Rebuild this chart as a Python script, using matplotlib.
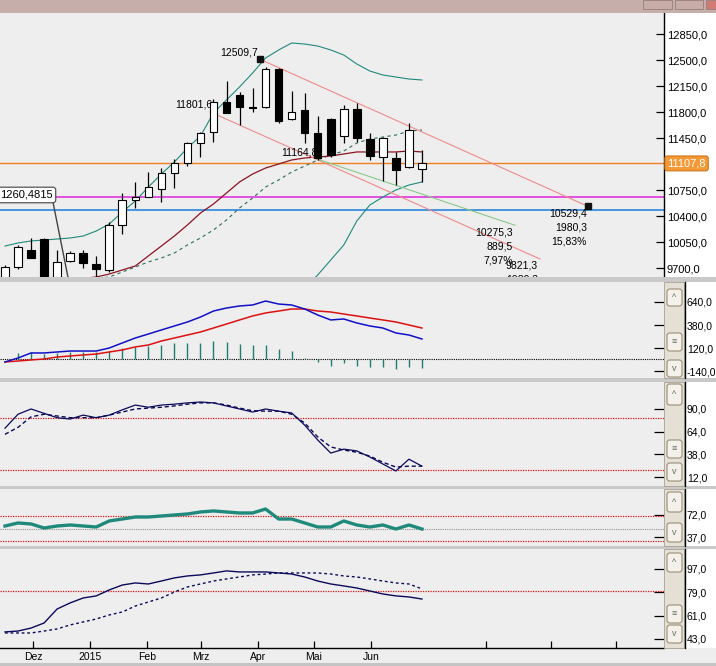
import numpy as np
import matplotlib
matplotlib.use("Agg")
import matplotlib.pyplot as plt
from matplotlib.patches import Rectangle, FancyBboxPatch
from matplotlib.lines import Line2D

plt.rcParams['font.family'] = ['Liberation Sans', 'DejaVu Sans']

# Wochenkerzen (33 Wochen)
opens = [9500, 9714, 9943, 10091, 9500, 9794, 9902, 9754, 9673, 10279, 10616, 10656, 10764,
         10979, 11114, 11383, 11531, 11935, 12029, 11867, 11867, 12379, 11706, 11827, 11517,
         11706, 11477, 11840, 11437, 11194, 11181, 11060, 11033]
highs = [9740, 10010, 10104, 10110, 9943, 9930, 9943, 9862, 10319, 10710, 10858, 10992, 11046,
         11167, 11400, 11530, 11975, 12217, 12069, 12123, 12406, 12390, 12083, 12056, 11746,
         11720, 11894, 11921, 11517, 11460, 11262, 11652, 11289]
lows = [9450, 9690, 9835, 9400, 9450, 9780, 9700, 9579, 9646, 10158, 10508, 10650, 10589,
        10777, 11073, 11194, 11396, 11780, 11625, 11800, 11860, 11652, 11692, 11383, 11154,
        11194, 11383, 11396, 11154, 10871, 10817, 11050, 10858]
closes = [9714, 9983, 9835, 9450, 9781, 9902, 9767, 9687, 10279, 10616, 10656, 10791, 10979,
          11114, 11383, 11517, 11935, 11787, 11867, 11860, 12379, 11679, 11800, 11517, 11181,
          11221, 11840, 11450, 11208, 11450, 11019, 11558, 11108]

# Bollinger + gleitender Durchschnitt
bb_upper = [9996, 10037, 10064, 10077, 10090, 10104, 10131, 10198, 10292, 10454, 10602, 10790,
            10965, 11127, 11315, 11477, 11787, 11962, 12137, 12325, 12527, 12635, 12729, 12715,
            12688, 12635, 12567, 12446, 12352, 12298, 12271, 12244, 12231]
bb_mid = [9480, 9490, 9500, 9510, 9520, 9530, 9545, 9560, 9579, 9646, 9714, 9781, 9835, 9902,
          10010, 10104, 10212, 10346, 10508, 10642, 10790, 10885, 10992, 11073, 11154, 11221,
          11275, 11383, 11437, 11463, 11490, 11544, 11558]
bb_lower = [8960, 8945, 8940, 8990, 8970, 8956, 8959, 8922, 8866, 8838, 8826, 8772, 8705, 8677,
            8705, 8731, 8637, 8730, 8879, 8959, 9053, 9135, 9255, 9431, 9606, 9808, 10010,
            10333, 10548, 10656, 10750, 10817, 10858]
sma = [9450, 9465, 9480, 9500, 9520, 9540, 9560, 9579, 9619, 9673, 9727, 9862, 9996, 10131,
       10279, 10440, 10562, 10710, 10858, 10965, 11046, 11100, 11154, 11181, 11194, 11208,
       11235, 11262, 11262, 11262, 11262, 11275, 11262]

last_price = 11107.8
magenta_level = 10660
blue_level = 10480

# Trendlinien (Startindex, Startwert, Endindex, Endwert)
line_a = (19.57, 12509.7, 44.74, 10529.4)
line_b = (15.73, 11801.6, 41.06, 9821.3)
line_g = (24.0, 11164.8, 39.14, 10275.3)

# MACD
macd = [-38, 7, 64, 64, 75, 86, 86, 86, 120, 177, 233, 278, 324, 369, 414, 470, 538, 572,
        595, 606, 651, 617, 606, 561, 493, 437, 448, 403, 369, 346, 290, 267, 222]
signal = [-38, -27, -15, -4, 18, 30, 41, 52, 75, 98, 132, 154, 199, 233, 267, 301, 346, 391,
          437, 482, 516, 538, 561, 561, 538, 527, 504, 482, 459, 437, 414, 380, 346]
hist = [0, 64, 75, 52, 64, 75, 75, 75, 86, 120, 131, 143, 154, 177, 177, 177, 199, 188, 165,
        154, 154, 109, 86, 3, -38, -83, -49, -83, -94, -94, -117, -94, -106]

# Stochastik
stoch_k = [68, 84, 90, 85, 80, 78.5, 83, 80, 83, 89, 94.5, 92, 94.5, 95.5, 97, 98, 97, 93.5,
           90, 86.5, 90, 87.5, 85.5, 71.5, 54.5, 39.5, 44, 42, 35, 27, 19, 32.5, 24.5]
stoch_d = [61, 69, 81, 84, 82, 80, 80, 80, 83, 86.5, 90, 91, 92, 93.5, 95.5, 97, 97, 94.5, 91,
           88, 87.5, 87.5, 84, 74, 58, 46.5, 43, 40.5, 36, 29, 23.5, 24.5, 24.5]

# RSI
rsi = [54.5, 59.3, 57.7, 51.3, 54.5, 56.1, 54.5, 52.9, 62.5, 65.6, 68.8, 68.8, 70.4, 72, 73.6,
       76.8, 78.4, 76.8, 75.2, 75.2, 81.5, 65.6, 65.6, 59.3, 52.9, 52.9, 62.5, 56.1, 52.9,
       56.1, 49.7, 56.1, 49.7]

# unterstes Fenster
osc_a = [48.4, 49.1, 51.4, 55.3, 66.1, 70.8, 74.6, 76.2, 80.8, 84.6, 86.2, 85.4, 87.7, 90.1,
         91.6, 92.4, 93.9, 95.5, 94.7, 94.7, 94.7, 93.9, 93.1, 90.8, 87.7, 85.4, 83.9, 82.3,
         80.0, 77.7, 76.2, 75.4, 73.8]
osc_b = [47.6, 47.6, 47.6, 49.1, 50.7, 53.8, 56.1, 58.4, 61.5, 63.8, 68.4, 71.5, 74.6, 79.2,
         83.1, 85.4, 87.7, 89.3, 90.8, 92.4, 93.1, 93.9, 93.9, 93.9, 93.9, 93.1, 91.6, 90.8,
         89.3, 87.7, 86.2, 85.4, 81.6]

month_pos = [2.15, 6.52, 10.9, 15.04, 19.4, 23.7, 28.1, 36.9, 41.9, 46.9]
month_lbl = ['Dez', '2015', 'Feb', 'Mrz', 'Apr', 'Mai', 'Jun', '', '', '']

main_ticks = [12850, 12500, 12150, 11800, 11450, 10750, 10400, 10050, 9700]
macd_ticks = [640, 380, 120, -140]
stoch_ticks = [90, 64, 38, 12]
rsi_ticks = [72, 37]
osc_ticks = [97, 79, 61, 43]

W, H = 716, 666
BG = '#eeeeee'
NAVY = '#0a0a5a'
TEAL = '#1f8a7c'


def frect(x0, y0, x1, y1):
    return [x0 / W, 1 - y1 / H, (x1 - x0) / W, (y1 - y0) / H]


def fmt(v):
    return ('%.1f' % v).replace('.', ',')


def prect(fig, x0, y0, x1, y1, **kw):
    r = Rectangle((x0 / W, 1 - y1 / H), (x1 - x0) / W, (y1 - y0) / H,
                  transform=fig.transFigure, **kw)
    fig.add_artist(r)


def setup_lower(ax, ylim, ticks):
    ax.set_facecolor(BG)
    ax.set_xlim(XL)
    ax.set_ylim(ylim)
    for s in ax.spines.values():
        s.set_visible(False)
    ax.set_xticks([])
    ax.yaxis.tick_right()
    ax.set_yticks(ticks)
    ax.set_yticklabels([fmt(t) for t in ticks])
    ax.tick_params(axis='y', direction='in', length=7, width=0.9, pad=16.5, labelsize=7.5)


def widget(fig, y0, y1, buttons):
    prect(fig, 664, y0, 684, y1, fc='#e4e0d6', ec='#a8a090', lw=0.6)
    fig.add_artist(Line2D([685 / W, 685 / W], [1 - y0 / H, 1 - y1 / H],
                          transform=fig.transFigure, color='black', lw=1))
    for (b0, b1, g) in buttons:
        p = FancyBboxPatch((667 / W, 1 - b1 / H), 15 / W, (b1 - b0) / H,
                           boxstyle='round,pad=0,rounding_size=0.004',
                           transform=fig.transFigure, fc='#f3f1ea', ec='#9a8e76', lw=0.8)
        fig.add_artist(p)
        fig.text(674.5 / W, 1 - (b0 + b1) / 2 / H, g, ha='center', va='center',
                 fontsize=6.5, color='#6a6a6a')


XL = (-5 / 13.03, 659 / 13.03)
idx = np.arange(len(closes))

fig = plt.figure(figsize=(7.16, 6.66), dpi=100, facecolor='white')

# Titelleiste und Trennleisten
prect(fig, 0, 0, 716, 12.5, fc='#c6afab', ec='none')
prect(fig, 643, 0, 672, 9, fc='#c8aca8', ec='#9c8480', lw=0.7)
prect(fig, 675, 0, 703, 9, fc='#c8aca8', ec='#9c8480', lw=0.7)
prect(fig, 706, 0, 716, 9, fc='#d27a74', ec='#9c8480', lw=0.7)
for (a, b) in [(277, 282), (378, 382), (486, 489), (546, 549)]:
    prect(fig, 0, a, 716, b, fc='#c9c9c9', ec='none')
prect(fig, 0, 648, 716, 663, fc=BG, ec='none', zorder=-5)
prect(fig, 0, 663, 716, 666, fc='#c4c4c4', ec='none')

# ---------------- Hauptfenster ----------------
ax = fig.add_axes(frect(0, 13, 664, 277))
ax.set_facecolor(BG)
ax.set_xlim(XL)
ax.set_ylim(9578.9, 13132.7)
for k in ['left', 'top', 'bottom']:
    ax.spines[k].set_visible(False)
ax.spines['right'].set_linewidth(1)
ax.set_xticks([])
ax.yaxis.tick_right()
ax.set_yticks(main_ticks)
ax.set_yticklabels([fmt(t) for t in main_ticks])
ax.tick_params(axis='y', direction='in', length=6, width=0.9, pad=2, labelsize=8)

ax.axhline(last_price, color='#f0821e', lw=1, zorder=1)
ax.axhline(magenta_level, color='#e035dc', lw=1.2, zorder=1)
ax.axhline(blue_level, color='#2a86dc', lw=1.2, zorder=1)

ax.plot(idx, bb_upper, color=TEAL, lw=0.8, zorder=2)
ax.plot(idx, bb_lower, color=TEAL, lw=0.8, zorder=2)
ax.plot(idx, bb_mid, color='#2a6e60', lw=0.8, dashes=(3, 3), zorder=2)
ax.plot(idx, sma, color='#8c1420', lw=0.9, zorder=2)

for (x0, y0, x1, y1), c in [(line_a, '#f08a8a'), (line_b, '#f08a8a'), (line_g, '#88c888')]:
    ax.plot([x0, x1], [y0, y1], color=c, lw=0.8, zorder=2)

o = np.array(opens)
c = np.array(closes)
up = c >= o
ax.vlines(idx, lows, highs, color='black', lw=0.9, zorder=3)
ax.bar(idx, np.maximum(np.abs(c - o), 8), bottom=np.minimum(o, c), width=0.58,
       color=np.where(up, 'white', 'black'), edgecolor='black', lw=0.8, zorder=4)

ax.plot([line_a[0], line_a[2]], [line_a[1], line_a[3]], 's', ms=4.5, color='#111111', zorder=5)

tkw = dict(fontsize=7.5, color='black', textcoords='offset pixels', va='center', ha='right')
ax.annotate('12509,7', (line_a[0], line_a[1]), xytext=(-2, 7), zorder=2, **tkw)
ax.annotate('11801,6', (line_b[0], line_b[1]), xytext=(2, 7), zorder=2, **tkw)
ax.annotate('11164,8', (line_g[0], line_g[1]), xytext=(0, 7), zorder=2, **tkw)
for k, s in enumerate(['10275,3', '889,5', '7,97%']):
    ax.annotate(s, (line_g[2], line_g[3]), xytext=(-2, -7 - 14 * k), clip_on=True, **tkw)
for k, s in enumerate(['9821,3', '1980,3', '16,78%']):
    ax.annotate(s, (line_b[2], line_b[3]), xytext=(-2, -7 - 14 * k), clip_on=True, **tkw)
for k, s in enumerate(['10529,4', '1980,3', '15,83%']):
    ax.annotate(s, (line_a[2], line_a[3]), xytext=(-1, -7 - 14 * k), clip_on=True, **tkw)

ax.text(1.005, last_price, fmt(last_price), transform=ax.get_yaxis_transform(), ha='left',
        va='center', fontsize=8, color='white', clip_on=False, zorder=6,
        bbox=dict(boxstyle='round,pad=0.22', fc='#f39a36', ec='#d0761a', lw=0.8))

# Beschriftungskasten links
ax.plot([3.68, 4.83], [10589, 9579], color='#444444', lw=1, zorder=6)
ax.text(-0.36, 10683, '1260,4815', ha='left', va='center', fontsize=8, zorder=7,
        bbox=dict(boxstyle='round,pad=0.25', fc='white', ec='#555555', lw=0.9))

# ---------------- MACD ----------------
ax2 = fig.add_axes(frect(0, 282, 664, 378))
setup_lower(ax2, (-219, 866), macd_ticks)
ax2.axhline(0, color='black', lw=0.8, ls=(0, (1, 1)))
ax2.vlines(idx, 0, hist, color='#217d72', lw=1)
ax2.plot(idx, signal, color='#dd1010', lw=1.1)
ax2.plot(idx, macd, color='#1010c8', lw=1.1)
widget(fig, 282, 378, [(289, 306, '^'), (333, 351, '≡'), (360, 377, 'v')])

# ---------------- Stochastik ----------------
ax3 = fig.add_axes(frect(0, 382, 664, 486))
setup_lower(ax3, (1.8, 120.9), stoch_ticks)
for lv in (80, 20):
    ax3.axhline(lv, color='#e01010', lw=0.9, ls=(0, (1, 1)))
ax3.plot(idx, stoch_d, color=NAVY, lw=1, dashes=(3, 2))
ax3.plot(idx, stoch_k, color=NAVY, lw=0.9)
widget(fig, 382, 486, [(384, 405, '^'), (440, 458, '≡'), (463, 481, 'v')])

# ---------------- RSI ----------------
ax4 = fig.add_axes(frect(0, 489, 664, 546))
setup_lower(ax4, (22.7, 113.3), rsi_ticks)
for lv in (70, 30):
    ax4.axhline(lv, color='#e01010', lw=0.9, ls=(0, (1, 1)))
ax4.axhline(50, color='#909090', lw=0.8, ls=(0, (1, 1)))
ax4.plot(idx, rsi, color=TEAL, lw=2.4)
widget(fig, 489, 546, [(492, 512, '^'), (523, 542, 'v')])

# ---------------- unterstes Fenster ----------------
ax5 = fig.add_axes(frect(0, 549, 664, 648))
setup_lower(ax5, (36.0, 112.4), osc_ticks)
ax5.axhline(80, color='#e01010', lw=0.9, ls=(0, (1, 1)))
ax5.plot(idx, osc_b, color=NAVY, lw=1, dashes=(2, 2))
ax5.plot(idx, osc_a, color=NAVY, lw=1)
ax5.spines['bottom'].set_visible(True)
ax5.spines['bottom'].set_linewidth(1)
ax5.set_xticks(month_pos)
ax5.set_xticklabels(month_lbl)
ax5.tick_params(axis='x', direction='in', length=5, width=0.9, pad=3, labelsize=7.5)
widget(fig, 549, 648, [(553, 572, '^'), (605, 623, '≡'), (625, 643, 'v')])

fig.savefig('out.png', dpi=100, facecolor=fig.get_facecolor())
